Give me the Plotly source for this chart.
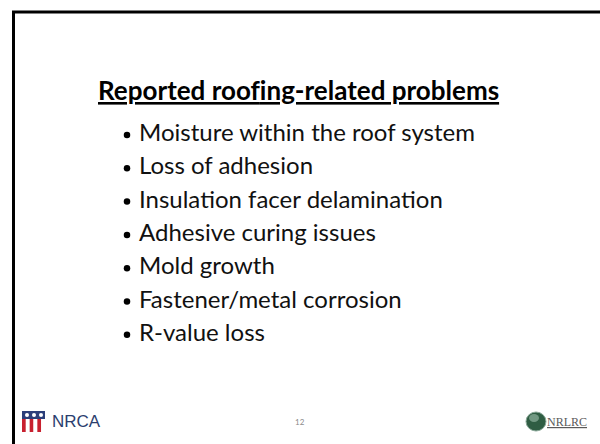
import plotly.graph_objects as go

title = "Reported roof\u200cing-related problems"
items = [
    "Moisture within the roof system",
    "Loss of adhesion",
    "Insulation facer delamination",
    "Adhesive curing issues",
    "Mold growth",
    "Fastener/metal corrosion",
    "R-value loss",
]
page_number = "12"
left_logo = "NRCA"
right_logo = "NRLRC"

W, H = 600, 444
font = "Lato, 'Open Sans', sans-serif"

fig = go.Figure()

# bullet list as a text trace on a pixel-like scale
n = len(items)
y_first, step = 135, 33.3
ys = [y_first + i * step for i in range(n)]
fig.add_trace(go.Scatter(
    x=[127] * n, y=ys, mode="markers",
    marker=dict(size=6.5, color="black"), hoverinfo="skip", showlegend=False))
fig.add_trace(go.Scatter(
    x=[139] * n, y=ys, mode="text", text=items, textposition="middle right",
    textfont=dict(family=font, size=24, color="#111111"),
    hoverinfo="skip", showlegend=False))

annotations = [
    dict(x=298, y=90, text="<b><u>" + title + "</u></b>", showarrow=False,
         font=dict(family=font, size=26, color="black"), xanchor="center", yanchor="middle"),
    dict(x=300, y=422, text=page_number, showarrow=False,
         font=dict(family=font, size=8, color="#8a8a8a")),
    dict(x=50, y=421, text=left_logo, showarrow=False, xanchor="left",
         font=dict(family="'Liberation Sans', Arial, sans-serif", size=17, color="#2b3e6e")),
    dict(x=545, y=422, text="<u>" + right_logo + "</u>", showarrow=False, xanchor="left",
         font=dict(family="'Liberation Serif', serif", size=12, color="#5a5a5a")),
]

shapes = [
    # slide frame
    dict(type="line", x0=13.5, x1=13.5, y0=11, y1=H + 2, line=dict(color="black", width=3)),
    dict(type="line", x0=12, x1=W + 2, y0=12, y1=12, line=dict(color="black", width=3)),
    # NRCA flag logo
    dict(type="rect", x0=22, x1=45, y0=411, y1=419, fillcolor="#2c3f7a", line_width=0),
]
for k in range(6):
    shapes.append(dict(type="rect", x0=22 + k * 23 / 6, x1=22 + (k + 1) * 23 / 6, y0=419, y1=432,
                       fillcolor="#c8202f" if k % 2 == 0 else "white", line_width=0))
for k in range(3):
    shapes.append(dict(type="circle", x0=25 + k * 7, x1=29 + k * 7, y0=413, y1=417,
                       fillcolor="white", line_width=0))
# NRLRC globe
shapes.append(dict(type="circle", x0=526, x1=546, y0=412, y1=431,
                   fillcolor="#2f5d43", line=dict(color="#8aa898", width=1)))
shapes.append(dict(type="circle", x0=529, x1=539, y0=414, y1=422,
                   fillcolor="#9fbfae", line_width=0, opacity=0.6))

fig.update_layout(
    width=W, height=H, margin=dict(l=0, r=0, t=0, b=0),
    paper_bgcolor="white", plot_bgcolor="white",
    xaxis=dict(range=[0, W], visible=False, fixedrange=True),
    yaxis=dict(range=[H, 0], visible=False, fixedrange=True),
    annotations=annotations, shapes=shapes,
)

fig.write_html("out.html", config={"displayModeBar": False},
               post_script="document.body.style.margin='0';")
